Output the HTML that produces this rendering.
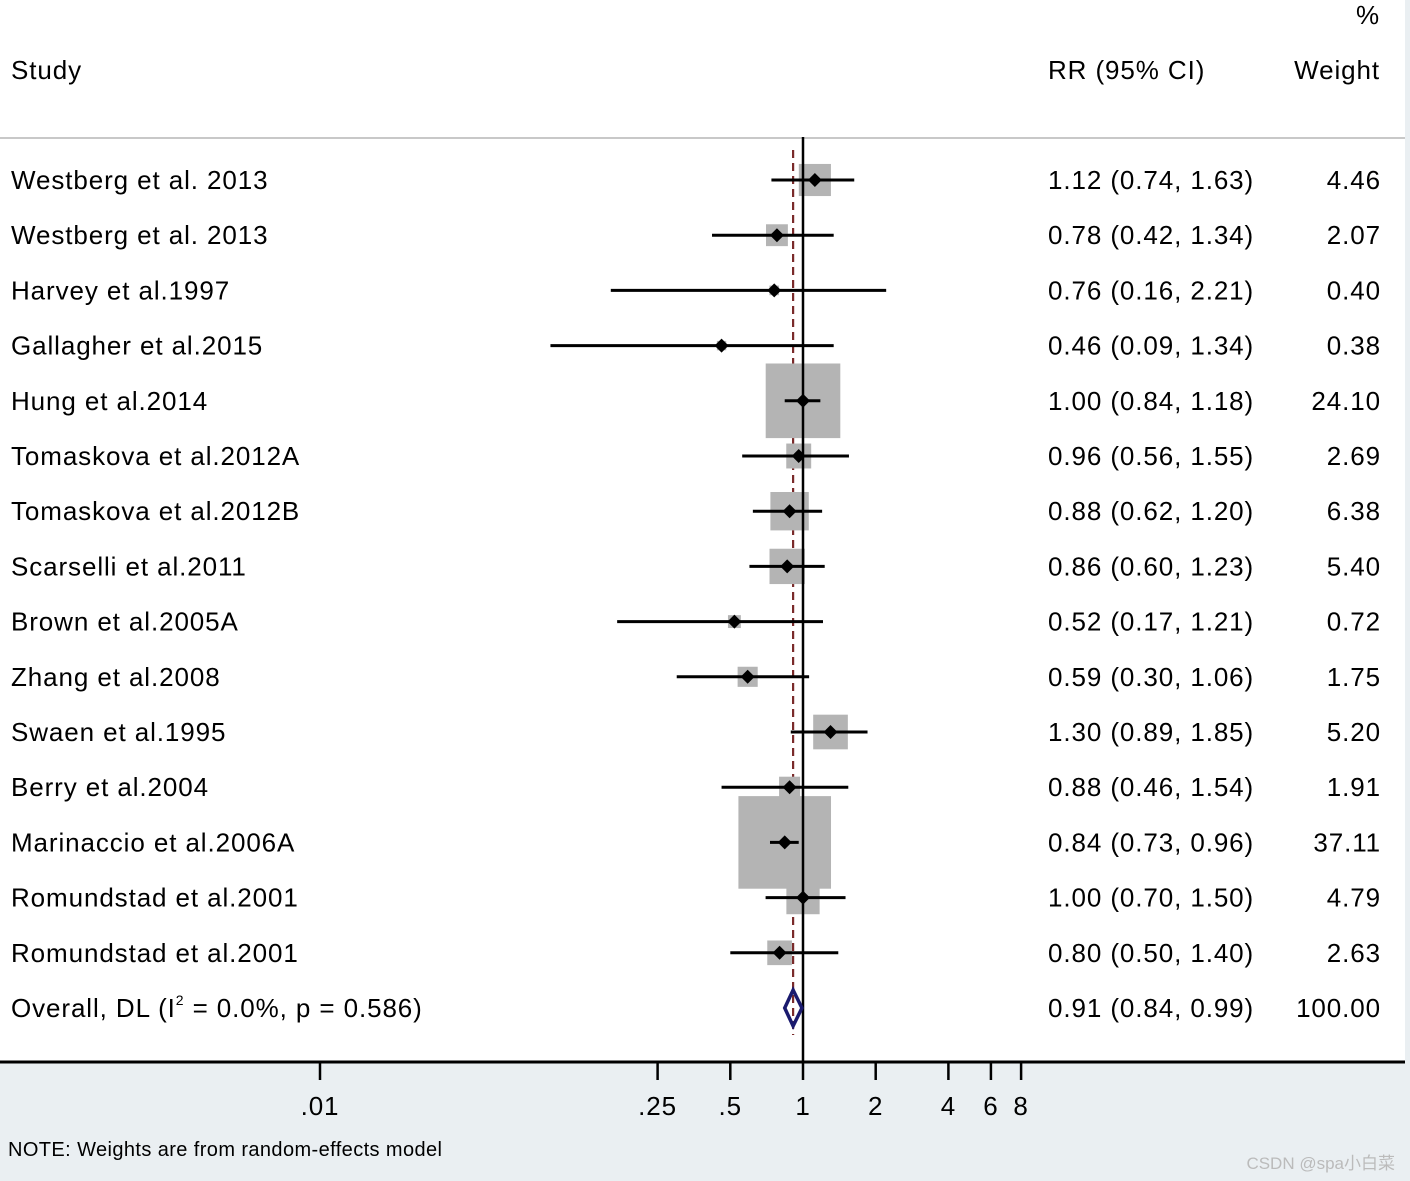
<!DOCTYPE html>
<html><head><meta charset="utf-8"><style>
html,body{margin:0;padding:0;background:#eaeff2;}
svg{display:block;font-family:"Liberation Sans","Noto Sans CJK SC",sans-serif;}
text{letter-spacing:0.9px;}
</style></head><body>
<svg id="chart" width="1410" height="1181" viewBox="0 0 1410 1181">
<rect x="0" y="0" width="1405" height="1062" fill="#ffffff"/>
<line x1="0" y1="138" x2="1405" y2="138" stroke="#c8c8c8" stroke-width="2"/>
<text x="11" y="79" font-size="26">Study</text>
<text x="1048" y="79" font-size="26">RR (95% CI)</text>
<text x="1380" y="24" font-size="26" text-anchor="end">%</text>
<text x="1380" y="79" font-size="26" text-anchor="end">Weight</text>
<g id="marks"></g>
<text x="8" y="1156" font-size="20" style="letter-spacing:0.4px">NOTE: Weights are from random-effects model</text>
<text x="1395" y="1169" font-size="17" fill="#bbbbbb" text-anchor="end" style="letter-spacing:0">CSDN @spa小白菜</text>
</svg>
<script>
const studies=["Westberg et al. 2013","Westberg et al. 2013","Harvey et al.1997","Gallagher et al.2015","Hung et al.2014","Tomaskova et al.2012A","Tomaskova et al.2012B","Scarselli et al.2011","Brown et al.2005A","Zhang et al.2008","Swaen et al.1995","Berry et al.2004","Marinaccio et al.2006A","Romundstad et al.2001","Romundstad et al.2001"];
const rr=[1.12,0.78,0.76,0.46,1.00,0.96,0.88,0.86,0.52,0.59,1.30,0.88,0.84,1.00,0.80];
const lo=[0.74,0.42,0.16,0.09,0.84,0.56,0.62,0.60,0.17,0.30,0.89,0.46,0.73,0.70,0.50];
const hi=[1.63,1.34,2.21,1.34,1.18,1.55,1.20,1.23,1.21,1.06,1.85,1.54,0.96,1.50,1.40];
const weights=[4.46,2.07,0.40,0.38,24.10,2.69,6.38,5.40,0.72,1.75,5.20,1.91,37.11,4.79,2.63];
const overall=[0.91,0.84,0.99];
const ticks=[0.01,0.25,0.5,1,2,4,6,8];
const tickLabels=[".01",".25",".5","1","2","4","6","8"];
const NS="http://www.w3.org/2000/svg";
const g=document.getElementById('marks');
const X=v=>803+241.5*Math.log10(v);
const Y=i=>180+i*55.2;
function mk(t,a,p){const e=document.createElementNS(NS,t);for(const k in a)e.setAttribute(k,a[k]);(p||g).appendChild(e);return e;}
const f=v=>v.toFixed(2);
let dl=mk('line',{x1:X(overall[0]),x2:X(overall[0]),y1:150,y2:1035,stroke:'#7a2a2a','stroke-width':2.2,'stroke-dasharray':'8,5'});


studies.forEach((s,i)=>{
  const y=Y(i);const side=15.2*Math.sqrt(weights[i]);
  let b=mk('rect',{x:X(rr[i])-side/2,y:y-side/2,width:side,height:side,fill:'#b4b4b4'});
  
  
});
let nl=mk('line',{x1:803,x2:803,y1:137,y2:1062,stroke:'#000','stroke-width':2.5});


studies.forEach((s,i)=>{
  const y=Y(i);
  let l=mk('line',{x1:X(lo[i]),x2:X(hi[i]),y1:y,y2:y,stroke:'#000','stroke-width':3});
  
  
  const cx=X(rr[i]);
  let d=mk('polygon',{points:`${cx-7},${y} ${cx},${y-7} ${cx+7},${y} ${cx},${y+7}`,fill:'#000'});
  
  
  let t=mk('text',{x:11,y:y+9,'font-size':26});t.textContent=s;
  
  
  let c=mk('text',{x:1048,y:y+9,'font-size':26});c.textContent=`${f(rr[i])} (${f(lo[i])}, ${f(hi[i])})`;
  
  
  let w=mk('text',{x:1381,y:y+9,'font-size':26,'text-anchor':'end'});w.textContent=f(weights[i]);
  
  
});
const oy=Y(15);
let od=mk('polygon',{points:`${X(overall[1])},${oy} ${X(overall[0])},${oy-18} ${X(overall[2])},${oy} ${X(overall[0])},${oy+18}`,fill:'none',stroke:'#1a1a6e','stroke-width':3.5});


let ot=mk('text',{x:11,y:oy+9,'font-size':26});
ot.innerHTML='Overall, DL (I<tspan dy="-12" font-size="14">2</tspan><tspan dy="12"> = 0.0%, p = 0.586)</tspan>';


let oc=mk('text',{x:1048,y:oy+9,'font-size':26});oc.textContent=`${f(overall[0])} (${f(overall[1])}, ${f(overall[2])})`;


let ow=mk('text',{x:1381,y:oy+9,'font-size':26,'text-anchor':'end'});ow.textContent='100.00';


let ax=mk('line',{x1:0,x2:1405,y1:1062,y2:1062,stroke:'#000','stroke-width':3});


ticks.forEach((v,i)=>{
  let tk=mk('line',{x1:X(v),x2:X(v),y1:1062,y2:1080,stroke:'#000','stroke-width':2.5});
  
  
  let tl=mk('text',{x:X(v),y:1115,'font-size':26,'text-anchor':'middle'});tl.textContent=tickLabels[i];
  
  
});
</script>
</body></html>
